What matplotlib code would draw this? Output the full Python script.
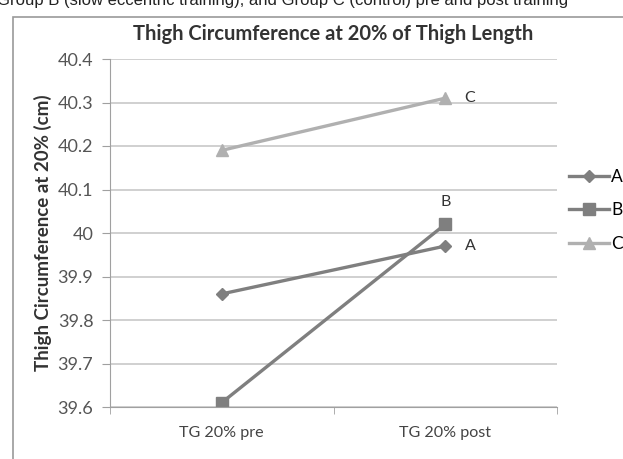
import matplotlib.pyplot as plt
from matplotlib.patches import Rectangle

# thigh circumference at 20% of thigh length, pre and post training
timepoints = ['TG 20% pre', 'TG 20% post']
group_a = [39.86, 39.97]
group_b = [39.61, 40.02]
group_c = [40.19, 40.31]
y_ticks = [39.6, 39.7, 39.8, 39.9, 40.0, 40.1, 40.2, 40.3, 40.4]
y_tick_labels = ['39.6', '39.7', '39.8', '39.9', '40', '40.1', '40.2', '40.3', '40.4']

plt.rcParams['font.family'] = ['Lato', 'DejaVu Sans']

fig = plt.figure(figsize=(6.23, 4.59), dpi=100)
ax = fig.add_axes([110 / 623, 1 - 407 / 459, 447 / 623, 348 / 459])

# outer chart frame and caption line above it
fig.patches.append(Rectangle((13 / 623, -0.1), 1.2, 1 - 17 / 459 + 0.1,
                             transform=fig.transFigure, fill=False,
                             edgecolor='#9a9a9a', linewidth=1.2))
fig.text(-0.005, 1.015, 'Group B (slow eccentric training), and Group C (control) pre and post training',
         fontsize=12, family='Liberation Sans', color='#222222', va='top')

x = range(len(timepoints))
ax.plot(x, group_a, marker='D', markersize=6, color='#7f7f7f', linewidth=2.4, label='A')
ax.plot(x, group_b, marker='s', markersize=9, color='#7f7f7f', linewidth=2.4, label='B')
ax.plot(x, group_c, marker='^', markersize=8, color='#b0b0b0', linewidth=2.4, label='C')

ax.annotate('C', (1, group_c[1]), xytext=(14, 0), textcoords='offset points',
            va='center', fontsize=11.5, color='#333333')
ax.annotate('A', (1, group_a[1]), xytext=(14, 0), textcoords='offset points',
            va='center', fontsize=11.5, color='#333333')
ax.annotate('B', (1, group_b[1]), xytext=(0, 11), textcoords='offset points',
            ha='center', va='bottom', fontsize=11.5, color='#333333')

ax.set_xlim(-0.5, 1.5)
ax.set_ylim(39.6, 40.4)
ax.set_xticks(list(x))
ax.set_xticklabels(timepoints, fontsize=11.6, color='#444444')
ax.set_xticks([-0.5, 0.5, 1.5], minor=True)
ax.tick_params(axis='x', which='major', length=0, pad=14)
ax.tick_params(axis='x', which='minor', length=5, color='#a0a0a0', direction='out')
ax.set_yticks(y_ticks)
ax.set_yticklabels(y_tick_labels, fontsize=13, color='#555555')
ax.tick_params(axis='y', length=6, color='#a0a0a0', pad=6)

ax.grid(axis='y', color='#c8c8c8', linewidth=1.2)
ax.set_axisbelow(True)
for side in ['top', 'right']:
    ax.spines[side].set_visible(False)
ax.spines['left'].set_color('#a0a0a0')
ax.spines['bottom'].set_color('#a0a0a0')

ax.set_title('Thigh Circumference at 20% of Thigh Length', fontsize=14.5,
             fontweight='bold', color='#333333', pad=14)
ax.set_ylabel('Thigh Circumference at 20% (cm)', fontsize=13.5,
              fontweight='bold', color='#333333', labelpad=4)

ax.legend(loc='center left', bbox_to_anchor=(1.012, 0.565), frameon=False,
          fontsize=12.5, handlelength=2.3, handletextpad=0.1, labelspacing=1.0,
          borderaxespad=0)

fig.savefig('out.png', dpi=100)
